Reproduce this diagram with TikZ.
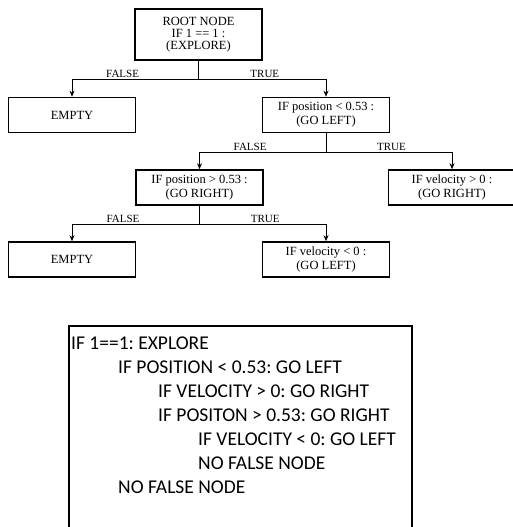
\documentclass[tikz,border=0pt]{standalone}
\usepackage{fontspec}
\setmainfont{Liberation Serif}
\newfontfamily\calibri{Carlito}
\usetikzlibrary{arrows.meta, positioning}
\frenchspacing

\begin{document}
\begin{tikzpicture}[
    x=1pt,
    y=-1pt,
    decision/.style={
        rectangle,
        draw=black,
        line width=1.6pt,
        minimum width=127pt,
        minimum height=35pt,
        inner sep=0pt,
        align=center,
        font=\fontsize{12.5}{14}\selectfont
    },
    branch/.style={
        -{Stealth[length=6pt, width=5pt]},
        line width=0.8pt
    },
    edgelabel/.style={
        above,
        inner sep=1pt,
        font=\fontsize{11}{12}\selectfont
    },
    codebox/.style={
        rectangle,
        draw=black,
        line width=1.4pt,
        minimum width=343pt,
        minimum height=214pt
    },
    listing/.style={
        align=left,
        inner sep=0pt,
        font=\calibri\fontsize{19.5}{24}\selectfont
    }
]
\useasboundingbox (0,0) rectangle (513,527);

% Decision tree
\node[decision, minimum height=51pt, font=\fontsize{12.5}{12}\selectfont] (root) at (198.5,34.5) {ROOT NODE\\IF 1 == 1 :\\(EXPLORE)};
\node[decision] (empty1) at (72,115) {EMPTY};
\node[decision] (posless) at (326,115) {IF position < 0.53 :\\(GO LEFT)};
\node[decision] (posmore) at (199.5,187.5) {IF position > 0.53 :\\(GO RIGHT)};
\node[decision] (velmore) at (452,187.5) {IF velocity > 0 :\\(GO RIGHT)};
\node[decision] (empty2) at (72,259.5) {EMPTY};
\node[decision] (velless) at (326,259.5) {IF velocity < 0 :\\(GO LEFT)};

% Branch points
\coordinate (split1) at (198.5,79);
\coordinate (split2) at (326,152);
\coordinate (split3) at (199.5,224);

\draw[line width=0.8pt] (root) -- (split1);
\draw[branch] (split1) -| node[edgelabel, pos=0.3] (false1) {FALSE} (empty1);
\draw[branch] (split1) -| node[edgelabel, pos=0.26] (true1) {TRUE} (posless);

\draw[line width=0.8pt] (posless) -- (split2);
\draw[branch] (split2) -| node[edgelabel, pos=0.3] (false2) {FALSE} (posmore);
\draw[branch] (split2) -| node[edgelabel, pos=0.26] (true2) {TRUE} (velmore);

\draw[line width=0.8pt] (posmore) -- (split3);
\draw[branch] (split3) -| node[edgelabel, pos=0.3] (false3) {FALSE} (empty2);
\draw[branch] (split3) -| node[edgelabel, pos=0.26] (true3) {TRUE} (velless);

% Pseudo code listing
\node[codebox] (code) at (240.5,433) {};
\node[listing, anchor=north west] (codetext) at (71,337) {%
IF 1==1: EXPLORE\\
\hspace*{47pt}IF POSITION < 0.53: GO LEFT\\
\hspace*{87pt}IF VELOCITY > 0: GO RIGHT\\
\hspace*{87pt}IF POSITON > 0.53: GO RIGHT\\
\hspace*{127pt}IF VELOCITY < 0: GO LEFT\\
\hspace*{127pt}NO FALSE NODE\\
\hspace*{47pt}NO FALSE NODE};

\end{tikzpicture}
\end{document}
